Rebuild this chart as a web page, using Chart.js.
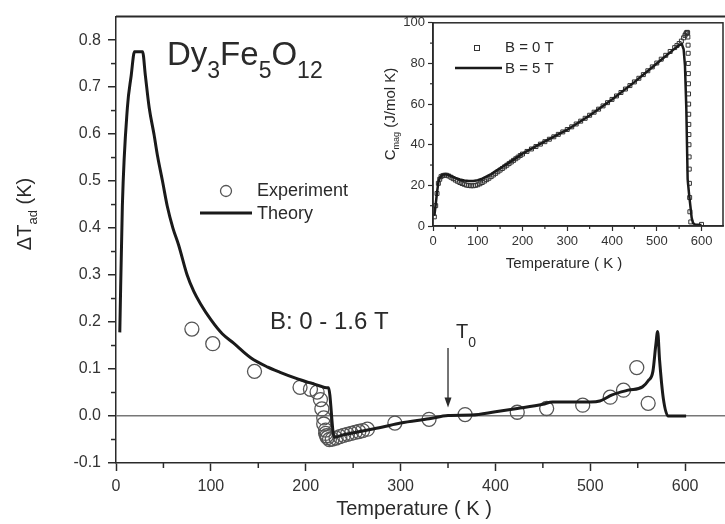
<!DOCTYPE html>
<html>
<head>
<meta charset="utf-8">
<script src="https://cdn.jsdelivr.net/npm/chart.js@4/dist/chart.umd.min.js"></script>
<style>
  html, body { margin: 0; padding: 0; background: #fff; }
  #wrap { position: relative; width: 725px; height: 524px; }
  #main { position: absolute; left: 0; top: 0; }
  #inset { position: absolute; left: 380px; top: 12px; }
</style>
</head>
<body>
<div id="wrap">
  <canvas id="main" width="725" height="524"></canvas>
  <canvas id="inset" width="345" height="268"></canvas>
</div>
<script>
// ---- Adiabatic temperature change, B: 0 - 1.6 T ----
const tempTheory = [4, 6.7, 12, 16, 19.5, 28, 31, 35, 40, 44,
  49, 54, 60, 66, 75, 82, 89, 100, 112, 124,
  142, 160, 173, 190, 202, 215, 222, 224, 230, 240,
  260, 280, 300, 330, 350, 375, 400, 423, 450, 460,
  500, 510, 523, 540, 555, 561, 566, 569, 571, 573,
  577, 582, 601];
const dTTheory = [0.178, 0.447, 0.656, 0.724, 0.775, 0.775, 0.724, 0.656, 0.60, 0.551,
  0.50, 0.447, 0.40, 0.364, 0.30, 0.265, 0.239, 0.205, 0.175, 0.155,
  0.124, 0.104, 0.093, 0.080, 0.072, 0.064, 0.060, 0.060, -0.045, -0.040,
  -0.032, -0.024, -0.015, -0.006, 0.001, 0.002, 0.009, 0.016, 0.025, 0.030,
  0.030, 0.032, 0.045, 0.055, 0.062, 0.075, 0.095, 0.15, 0.18, 0.12,
  0.037, 0.0, 0.0];

const tempExp = [80, 102, 146, 194, 205, 212, 215.5, 217, 219, 219,
  221, 221, 222, 223, 225, 228, 232, 236, 240, 244,
  248, 252, 256, 260, 265, 294, 330, 368, 423, 454,
  492, 521, 535, 549, 561];
const dTExp = [0.185, 0.154, 0.095, 0.061, 0.057, 0.051, 0.035, 0.015, -0.004, -0.017,
  -0.030, -0.037, -0.042, -0.046, -0.050, -0.049, -0.047, -0.044, -0.041, -0.039,
  -0.037, -0.035, -0.033, -0.031, -0.028, -0.015, -0.007, 0.003, 0.008, 0.016,
  0.023, 0.040, 0.055, 0.103, 0.027];

const mainXTicks = [0, 100, 200, 300, 400, 500, 600];
const mainXMinor = [50, 150, 250, 350, 450, 550];
const mainYTicks = [-0.1, 0.0, 0.1, 0.2, 0.3, 0.4, 0.5, 0.6, 0.7, 0.8];
const mainYMinor = [-0.05, 0.05, 0.15, 0.25, 0.35, 0.45, 0.55, 0.65, 0.75];
const T0 = 350;

// ---- Magnetic heat capacity (inset) ----
const cTemp0 = [3, 6, 9, 12, 15, 18, 22, 26, 30, 35,
  40, 45, 50, 55, 60, 65, 70, 75, 80, 85,
  90, 95, 100, 105, 110, 115, 120, 125, 130, 135,
  140, 145, 150, 155, 160, 165, 170, 175, 180, 185,
  190, 195, 200, 210, 220, 230, 240, 250, 260, 270,
  280, 290, 300, 310, 320, 330, 340, 350, 360, 370,
  380, 390, 400, 410, 420, 430, 440, 450, 460, 470,
  480, 490, 500, 510, 520, 530, 540, 545, 550, 555,
  560, 563, 565, 567, 568, 569, 569.5, 570, 570.2, 570.4,
  570.6, 570.8, 571, 571.2, 571.4, 571.6, 571.8, 572, 572.3, 572.6,
  573, 573.5, 574, 576, 600];
const cMag0 = [4.5, 10, 16, 21, 23, 24.3, 24.8, 25, 25, 24.6,
  24, 23.3, 22.6, 22, 21.4, 20.9, 20.5, 20.1, 19.9, 19.8,
  19.8, 20, 20.3, 20.8, 21.4, 22.1, 22.8, 23.5, 24.3, 25.1,
  25.9, 26.7, 27.5, 28.3, 29.1, 29.9, 30.7, 31.5, 32.3, 33.1,
  33.9, 34.7, 35.4, 36.7, 37.9, 39.1, 40.3, 41.5, 42.7, 43.9,
  45.1, 46.3, 47.5, 48.8, 50.2, 51.6, 53.0, 54.5, 56.0, 57.5,
  59.1, 60.7, 62.3, 64.0, 65.7, 67.4, 69.1, 70.9, 72.7, 74.5,
  76.4, 78.3, 80.2, 82.1, 84.0, 85.9, 87.8, 88.8, 89.8, 91,
  92.6, 93.8, 94.6, 95.2, 95.3, 95, 93, 89, 85, 80,
  75, 70, 65, 60, 55, 50, 45, 40, 34, 28,
  21, 14, 7, 2, 0.8];

const cTemp5 = [3, 6, 9, 12, 15, 20, 25, 30, 35, 40,
  50, 60, 70, 80, 90, 100, 110, 120, 130, 140,
  150, 170, 200, 250, 300, 350, 400, 450, 500, 540,
  550, 556, 560, 563, 566, 569, 572, 575, 578, 581,
  585, 600];
const cMag5 = [5, 10.5, 16.5, 21.5, 23.8, 25, 25.4, 25.4, 25.1, 24.6,
  23.7, 22.9, 22.4, 22.1, 22.1, 22.5, 23.3, 24.4, 25.6, 27,
  28.4, 31.2, 35.6, 41.6, 47.4, 54.4, 62.2, 70.8, 80, 87.3,
  89, 89.5, 87, 79, 58, 23, 16, 10, 4, 1.5,
  0.8, 0.5];

const insetXTicks = [0, 100, 200, 300, 400, 500, 600];
const insetXMinor = [50, 150, 250, 350, 450, 550];
const insetYTicks = [0, 20, 40, 60, 80, 100];
const insetYMinor = [10, 30, 50, 70, 90];

const FONT = "'Liberation Sans', Arial, Helvetica, sans-serif";
const INK = '#2a2a2a';
const pts = (xs, ys) => xs.map((v, i) => ({ x: v, y: ys[i] }));

// draw a run of text pieces (size, baseline shift) left to right
function richText(ctx, pieces, x, y, align) {
  let total = 0;
  pieces.forEach(p => { ctx.font = p.s + 'px ' + FONT; p.w = ctx.measureText(p.t).width; total += p.w; });
  let cx = align === 'center' ? x - total / 2 : x;
  pieces.forEach(p => {
    ctx.font = p.s + 'px ' + FONT;
    ctx.fillText(p.t, cx, y + (p.dy || 0));
    cx += p.w;
  });
}

function line(ctx, x1, y1, x2, y2) {
  ctx.beginPath(); ctx.moveTo(x1, y1); ctx.lineTo(x2, y2); ctx.stroke();
}

const mainDeco = {
  id: 'mainDeco',
  afterDraw(chart) {
    const { ctx, chartArea: a, scales: { x, y } } = chart;
    ctx.save();
    ctx.strokeStyle = INK;
    ctx.fillStyle = INK;
    // top frame
    ctx.lineWidth = 2;
    line(ctx, a.left, a.top, a.right, a.top);
    // minor ticks
    ctx.lineWidth = 1.5;
    mainXMinor.forEach(v => { const px = x.getPixelForValue(v); line(ctx, px, a.bottom, px, a.bottom + 5); });
    mainYMinor.forEach(v => { const py = y.getPixelForValue(v); line(ctx, a.left - 5, py, a.left, py); });

    ctx.textBaseline = 'alphabetic';
    ctx.textAlign = 'left';
    // compound formula
    richText(ctx, [
      { t: 'Dy', s: 33 }, { t: '3', s: 23, dy: 13 },
      { t: 'Fe', s: 33 }, { t: '5', s: 23, dy: 13 },
      { t: 'O', s: 33 }, { t: '12', s: 23, dy: 13 }
    ], 167, 65);

    // field range
    ctx.font = '24px ' + FONT;
    ctx.fillText('B: 0 - 1.6 T', 270, 329);

    // T0 marker
    const ax = x.getPixelForValue(T0);
    richText(ctx, [{ t: 'T', s: 20 }, { t: '0', s: 14, dy: 9 }], ax + 8, 338);
    ctx.lineWidth = 1.3;
    const yTop = y.getPixelForValue(0.145), yTip = y.getPixelForValue(0.018);
    line(ctx, ax, yTop, ax, yTip - 6);
    ctx.beginPath();
    ctx.moveTo(ax - 3.5, yTip - 10); ctx.lineTo(ax + 3.5, yTip - 10); ctx.lineTo(ax, yTip); ctx.closePath(); ctx.fill();

    // legend
    ctx.strokeStyle = '#555'; ctx.lineWidth = 1.3;
    ctx.beginPath(); ctx.arc(226, 191, 5.5, 0, Math.PI * 2); ctx.stroke();
    ctx.strokeStyle = '#1a1a1a'; ctx.lineWidth = 3;
    line(ctx, 200, 213, 252, 213);
    ctx.font = '18px ' + FONT;
    ctx.textBaseline = 'middle';
    ctx.fillText('Experiment', 257, 191);
    ctx.fillText('Theory', 257, 214);

    // axis titles
    ctx.textBaseline = 'alphabetic';
    ctx.font = '20px ' + FONT;
    ctx.textAlign = 'center';
    ctx.fillText('Temperature ( K )', 414, 515);
    ctx.save();
    ctx.translate(31, 214);
    ctx.rotate(-Math.PI / 2);
    ctx.textAlign = 'left';
    richText(ctx, [{ t: '\u0394T', s: 20 }, { t: 'ad', s: 13, dy: 6 }, { t: ' (K)', s: 20 }], 0, 0, 'center');
    ctx.restore();
    ctx.restore();
  }
};

new Chart(document.getElementById('main'), {
  data: {
    datasets: [
      {
        type: 'line', label: 'Theory', data: pts(tempTheory, dTTheory),
        borderColor: '#1a1a1a', borderWidth: 3, pointRadius: 0,
        cubicInterpolationMode: 'monotone', borderJoinStyle: 'round', order: 1
      },
      {
        type: 'scatter', label: 'Experiment', data: pts(tempExp, dTExp),
        pointStyle: 'circle', pointRadius: 7, borderColor: '#555', borderWidth: 1.3,
        backgroundColor: 'rgba(255,255,255,0)', order: 2
      }
    ]
  },
  options: {
    responsive: false, animation: false, devicePixelRatio: 1,
    layout: { autoPadding: false, padding: { top: 7, right: 0, left: 0, bottom: 0 } },
    plugins: { legend: { display: false }, tooltip: { enabled: false } },
    scales: {
      x: {
        type: 'linear', min: 0, max: 642,
        afterBuildTicks: s => { s.ticks = mainXTicks.map(v => ({ value: v })); },
        afterFit: s => { s.height = 61; },
        ticks: { font: { size: 16, family: FONT }, color: '#333', padding: 6, maxRotation: 0 },
        grid: { drawOnChartArea: false, tickLength: 8, tickColor: INK, tickWidth: 1.5 },
        border: { color: INK, width: 1.5 }
      },
      y: {
        type: 'linear', min: -0.1, max: 0.85,
        afterBuildTicks: s => { s.ticks = mainYTicks.map(v => ({ value: v })); },
        afterFit: s => { s.width = 116; },
        ticks: { font: { size: 16, family: FONT }, color: '#333', padding: 7, callback: v => v.toFixed(1) },
        grid: {
          drawOnChartArea: true, tickLength: 8, tickColor: INK, tickWidth: 1.5,
          color: c => (c.tick && Math.abs(c.tick.value) < 1e-9) ? '#777' : 'rgba(0,0,0,0)',
          lineWidth: 1.5
        },
        border: { color: INK, width: 1.5 }
      }
    }
  },
  plugins: [mainDeco]
});

const insetDeco = {
  id: 'insetDeco',
  afterDraw(chart) {
    const { ctx, chartArea: a, scales: { x, y } } = chart;
    ctx.save();
    ctx.strokeStyle = INK; ctx.fillStyle = INK;
    ctx.lineWidth = 1.5;
    ctx.strokeRect(a.left, a.top, a.right - a.left, a.bottom - a.top);
    ctx.lineWidth = 1.2;
    insetXMinor.forEach(v => { const px = x.getPixelForValue(v); line(ctx, px, a.bottom, px, a.bottom + 3); });
    insetYMinor.forEach(v => { const py = y.getPixelForValue(v); line(ctx, a.left - 3, py, a.left, py); });

    // legend
    ctx.lineWidth = 1;
    ctx.strokeStyle = '#333';
    ctx.strokeRect(94.5, 33.5, 5, 5);
    ctx.strokeStyle = '#1a1a1a'; ctx.lineWidth = 2.5;
    line(ctx, 75, 56, 122, 56);
    ctx.font = '15px ' + FONT;
    ctx.textBaseline = 'middle';
    ctx.textAlign = 'left';
    ctx.fillText('B = 0 T', 125, 36);
    ctx.fillText('B = 5 T', 125, 57);

    // axis titles
    ctx.textBaseline = 'alphabetic';
    ctx.textAlign = 'center';
    ctx.font = '15px ' + FONT;
    ctx.fillText('Temperature ( K )', 184, 256);
    ctx.save();
    ctx.translate(15, 102);
    ctx.rotate(-Math.PI / 2);
    ctx.textAlign = 'left';
    richText(ctx, [{ t: 'C', s: 15 }, { t: 'mag', s: 9, dy: 4 }, { t: ' (J/mol K)', s: 15 }], 0, 0, 'center');
    ctx.restore();
    ctx.restore();
  }
};

new Chart(document.getElementById('inset'), {
  data: {
    datasets: [
      {
        type: 'line', label: 'B = 5 T', data: pts(cTemp5, cMag5),
        borderColor: '#1a1a1a', borderWidth: 2.5, pointRadius: 0, tension: 0, order: 1
      },
      {
        type: 'scatter', label: 'B = 0 T', data: pts(cTemp0, cMag0),
        pointStyle: 'rect', pointRadius: 2.8, borderColor: '#333', borderWidth: 1,
        backgroundColor: 'rgba(255,255,255,0)', order: 2
      }
    ]
  },
  options: {
    responsive: false, animation: false, devicePixelRatio: 1,
    layout: { autoPadding: false, padding: { top: 7, right: 2, left: 0, bottom: 0 } },
    plugins: { legend: { display: false }, tooltip: { enabled: false } },
    scales: {
      x: {
        type: 'linear', min: 0, max: 648,
        afterBuildTicks: s => { s.ticks = insetXTicks.map(v => ({ value: v })); },
        afterFit: s => { s.height = 54; },
        ticks: { font: { size: 13, family: FONT }, color: '#333', padding: 3, maxRotation: 0 },
        grid: { drawOnChartArea: false, tickLength: 5, tickColor: INK, tickWidth: 1.2 },
        border: { color: INK, width: 1.5 }
      },
      y: {
        type: 'linear', min: 0, max: 100,
        afterBuildTicks: s => { s.ticks = insetYTicks.map(v => ({ value: v })); },
        afterFit: s => { s.width = 53; },
        ticks: { font: { size: 13, family: FONT }, color: '#333', padding: 3 },
        grid: { drawOnChartArea: false, tickLength: 5, tickColor: INK, tickWidth: 1.2 },
        border: { color: INK, width: 1.5 }
      }
    }
  },
  plugins: [insetDeco]
});
</script>
</body>
</html>
